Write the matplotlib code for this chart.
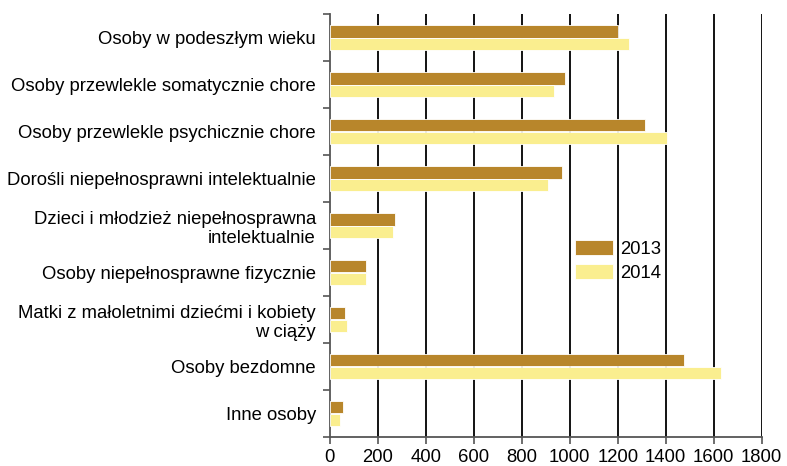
import numpy as np
import matplotlib
matplotlib.use("Agg")
import matplotlib.pyplot as plt

categories = [
    "Osoby w podeszłym wieku",
    "Osoby przewlekle somatycznie chore",
    "Osoby przewlekle psychicznie chore",
    "Dorośli niepełnosprawni intelektualnie",
    "Dzieci i młodzież niepełnosprawna\nintelektualnie",
    "Osoby niepełnosprawne fizycznie",
    "Matki z małoletnimi dziećmi i kobiety\nw ciąży",
    "Osoby bezdomne",
    "Inne osoby",
]
v2013 = [1200, 982, 1314, 968, 272, 150, 65, 1475, 57]
v2014 = [1248, 933, 1404, 911, 263, 150, 71, 1632, 42]
xticks = [0, 200, 400, 600, 800, 1000, 1200, 1400, 1600, 1800]

C13 = "#b8862b"
C14 = "#faee8f"
FS = 13.3

plt.rcParams["font.family"] = ["Liberation Sans", "DejaVu Sans"]

fig = plt.figure(figsize=(7.87, 4.66), dpi=100)
ax = fig.add_axes([329.7 / 787, 1 - 437 / 466, 432 / 787, 423 / 466])

n = len(categories)
y = np.arange(n)
h = 0.265
ax.barh(y - h / 2, v2013, height=h, color=C13, edgecolor="white", lw=0.6,
        label="2013", zorder=3)
ax.barh(y + h / 2, v2014, height=h, color=C14, edgecolor="white", lw=0.6,
        label="2014", zorder=3)

ax.set_ylim(n - 0.5, -0.5)
ax.set_xlim(0, 1800)

# labels at centres (minor), tick marks at category boundaries (major)
ax.set_yticks(np.arange(n + 1) - 0.5)
ax.set_yticklabels([])
ax.set_yticks(y, minor=True)
ax.set_yticklabels(categories, minor=True, fontsize=FS, linespacing=1.2)
ax.tick_params(axis="y", which="minor", length=0, pad=10)
ax.tick_params(axis="y", which="major", length=5, width=1.2, color="#555555")

ax.set_xticks(xticks)
ax.set_xticklabels([str(t) for t in xticks], fontsize=FS)
ax.tick_params(axis="x", length=5, width=1.2, color="#555555", pad=4)

for t in xticks[1:]:
    ax.axvline(t, color="black", lw=1.3, zorder=1)

for s in ("top", "right"):
    ax.spines[s].set_visible(False)
for s in ("left", "bottom"):
    ax.spines[s].set_color("#555555")
    ax.spines[s].set_linewidth(1.3)

ax.legend(loc="upper left", bbox_to_anchor=(0.568, 0.466), frameon=False,
          fontsize=FS, handlelength=2.05, handleheight=0.85,
          handletextpad=0.38, labelspacing=0.35, borderpad=0,
          borderaxespad=0)

fig.savefig("out.png", dpi=100, facecolor="white")
